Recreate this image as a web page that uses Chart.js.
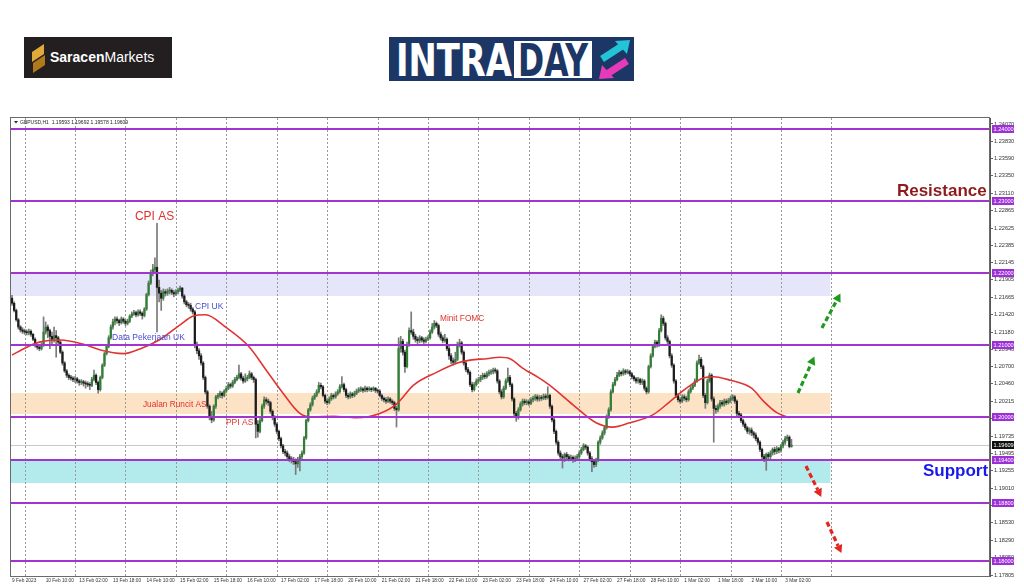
<!DOCTYPE html>
<html>
<head>
<meta charset="utf-8">
<script src="https://cdn.jsdelivr.net/npm/chart.js@4.4.1/dist/chart.umd.min.js"></script>
<style>
html, body { margin:0; padding:0; background:#fff; width:1024px; height:587px; overflow:hidden; }
.logo { position:absolute; }
#wrap { position:absolute; left:0; top:112px; width:1024px; height:475px; }
</style>
</head>
<body>
<svg class="logo" style="left:24px;top:37px" width="148" height="41">
  <rect width="148" height="41" fill="#231f20"/>
  <polygon points="8,15 20,7 20,17 8,25" fill="#e0a93c"/>
  <polygon points="9,26 21,18 21,28 9,36" fill="#b07a1c"/>
  <text x="26" y="25" font-family="Liberation Sans, Arial" font-size="14" fill="#fff"><tspan font-weight="bold">Saracen</tspan>Markets</text>
</svg>
<svg class="logo" style="left:389px;top:37px" width="245" height="44">
  <rect width="245" height="44" fill="#1c3765"/>
  <text x="7" y="39" font-family="DejaVu Sans Condensed, DejaVu Sans" font-weight="bold" font-size="44" fill="#fff" textLength="116" lengthAdjust="spacingAndGlyphs">INTRA</text>
  <rect x="125" y="4" width="78" height="37" fill="#fff"/>
  <text x="129" y="39" font-family="DejaVu Sans Condensed, DejaVu Sans" font-weight="bold" font-size="44" fill="#1c3765" textLength="70" lengthAdjust="spacingAndGlyphs">DAY</text>
  <line x1="213" y1="22" x2="233" y2="9" stroke="#22c4d6" stroke-width="7"/>
  <polygon points="241,3 226,4 238,17" fill="#22c4d6"/>
  <line x1="238" y1="24" x2="218" y2="37" stroke="#e63ab8" stroke-width="7"/>
  <polygon points="210,42 225,41 213,28" fill="#e63ab8"/>
</svg>
<div id="wrap"><canvas id="c" width="1024" height="475"></canvas></div>
<script>
// GBPUSD H1, values in pips above 1.2000, one entry per hourly bar (9 Feb 18:00 .. 3 Mar 05:00)
const BASE = 1.2, PIP = 0.0001;
const FIRST_OPEN = 165;
const closes = [
  158,148,135,125,121,119,
  118,117,119,115,108,99,97,95,100,118,125,120,112,108,113,110,104,90,75,64,58,55,54,52,
  53,50,48,49,47,46,45,44,52,58,48,38,55,72,88,98,110,125,132,136,134,131,136,133,
  130,133,140,143,145,142,146,144,141,150,170,186,200,205,208,180,172,165,174,172,175,176,173,171,
  174,176,179,168,160,156,155,150,146,100,92,85,75,55,35,15,0,-4,15,28,30,33,30,36,
  40,45,43,48,52,55,60,54,50,53,55,60,55,52,-10,-20,-5,15,24,22,20,8,0,-10,
  -20,-30,-40,-48,-50,-55,-58,-60,-62,-65,-60,-55,-50,-29,-5,10,17,26,30,35,44,42,30,22,
  20,25,30,28,32,35,42,45,38,30,28,32,30,33,36,38,39,37,40,38,39,38,40,37,
  36,30,26,24,22,25,22,20,12,10,95,105,90,70,100,120,118,112,108,106,110,107,105,108,
  110,118,125,130,127,115,110,106,108,95,85,78,76,80,100,103,90,75,66,62,45,38,45,50,
  52,55,58,56,60,62,63,65,64,50,35,28,40,50,55,45,25,5,-1,10,18,22,20,21,
  19,24,26,28,25,27,26,29,27,30,15,-4,-20,-35,-50,-55,-57,-52,-55,-58,-56,-60,-57,-55,
  -50,-45,-40,-42,-50,-58,-62,-66,-60,-35,-29,-22,-15,0,10,35,45,52,58,62,60,64,62,63,
  60,56,53,50,52,48,50,40,35,70,85,98,104,100,120,137,130,110,105,85,72,50,30,24,
  22,28,26,24,35,40,44,50,75,80,70,30,20,50,58,25,12,10,15,20,18,22,20,23,
  26,28,22,5,3,-5,-10,-15,-20,-18,-22,-25,-30,-35,-45,-55,-58,-52,-55,-50,-45,-48,-44,-46,
  -40,-35,-30,-28,-41,-39
];
const highs = [
  169,160,150,137,127,124,
  122,121,122,121,116,110,101,99,103,139,132,128,122,118,125,120,112,106,92,77,66,60,58,56,
  56,55,52,52,51,50,49,48,55,65,60,50,57,74,90,101,113,128,136,139,139,136,139,138,
  135,136,142,146,148,147,149,149,146,152,172,189,204,212,221,269,190,176,178,177,178,180,178,176,
  177,179,182,180,170,162,159,158,152,148,104,95,88,77,57,37,17,8,17,30,33,36,35,38,
  43,48,47,51,55,58,72,62,57,60,58,64,62,57,54,-5,-2,18,28,27,25,22,10,2,
  -8,-18,-28,-38,-45,-47,-52,-55,-56,-58,-56,-52,-47,-27,-3,12,20,29,33,38,48,47,44,32,
  25,28,33,32,35,38,45,56,47,40,33,35,34,36,39,41,42,41,43,42,42,41,42,41,
  39,38,32,28,27,28,27,24,22,15,110,112,108,93,104,124,146,122,115,111,113,112,110,111,
  113,121,130,134,132,129,118,113,115,110,98,88,82,90,104,108,105,92,78,69,64,48,48,53,
  55,58,61,61,63,65,66,68,68,66,52,38,43,53,68,58,47,27,8,13,21,25,25,24,
  24,27,29,31,31,30,30,32,32,42,32,17,-2,-18,-33,-47,-52,-50,-49,-52,-53,-54,-54,-52,
  -47,-42,-37,-38,-40,-48,-55,-59,-57,-33,-26,-19,-12,3,13,38,48,55,62,65,64,67,66,66,
  65,62,58,55,55,54,53,52,42,72,88,101,107,106,123,142,140,132,113,107,88,74,52,33,
  27,31,31,29,38,43,47,53,78,86,83,72,33,53,61,60,28,16,18,23,23,25,25,26,
  29,31,30,24,8,5,-3,-8,-13,-15,-15,-20,-22,-28,-33,-43,-52,-50,-49,-47,-43,-42,-41,-42,
  -38,-32,-27,-25,-26,-31
];
const lows = [
  155,146,133,122,118,116,
  115,114,114,112,106,97,94,92,93,98,115,110,95,100,104,83,100,88,72,62,55,52,51,49,
  48,47,44,45,43,40,42,38,42,50,45,33,36,53,70,86,96,108,122,128,130,127,129,130,
  127,128,131,138,141,139,140,141,136,139,148,168,184,196,200,118,160,148,162,168,169,171,170,167,
  169,171,174,165,157,153,151,147,143,96,88,80,72,52,32,12,-4,-8,-6,12,25,27,26,28,
  34,38,40,41,46,50,53,51,47,48,50,53,52,48,-29,-28,-22,-7,12,18,16,5,-4,-13,
  -23,-33,-43,-51,-54,-58,-62,-64,-66,-80,-70,-75,-58,-52,-31,-7,8,15,24,28,33,39,28,19,
  17,18,23,25,26,30,33,40,35,27,25,26,27,28,31,34,35,34,35,35,36,35,36,34,
  33,28,23,21,19,20,19,17,9,-14,8,90,86,62,68,98,115,108,104,102,103,104,102,103,
  106,108,116,122,124,112,107,103,104,92,80,74,72,74,78,97,87,72,63,59,42,35,36,43,
  47,49,52,53,54,57,59,60,61,47,32,25,26,38,48,42,22,2,-6,-3,8,15,17,17,
  16,17,21,23,22,22,23,24,24,25,12,-7,-23,-38,-53,-60,-71,-62,-58,-61,-60,-63,-62,-60,
  -58,-52,-47,-45,-53,-61,-76,-70,-69,-62,-38,-31,-25,-17,-2,8,33,43,50,56,57,58,59,60,
  57,53,50,47,47,45,45,37,32,33,68,83,96,97,98,118,127,107,102,82,69,47,27,21,
  19,20,23,21,22,33,38,42,48,73,67,27,12,18,48,22,-35,5,7,12,15,15,17,18,
  20,23,19,2,0,-8,-13,-18,-23,-24,-26,-29,-33,-38,-48,-58,-62,-74,-59,-58,-53,-52,-51,-50,
  -49,-43,-38,-33,-43,-42
];

// moving average (bar index, pips)
const maBars = [0,7,13,23,34,42,53,62,70,80,86,92,102,113,121,129,137,143,153,164,175,183,191,202,212,218,226,232,237,243,251,256,267,278,286,294,305,313,321,329,334,342,352,358,364,370];
const maPips = [86,97,104,107,101,93,88,96,107,128,140,142,124,97,65,33,5,0,1,-1,5,18,44,62,75,79,81,83,81,68,54,44,17,-8,-14,-8,3,21,40,54,56,51,40,21,6,-1];

const xTickLabels = ['9 Feb 2023','10 Feb 10:00','13 Feb 02:00','13 Feb 18:00','14 Feb 10:00','15 Feb 02:00','15 Feb 18:00','16 Feb 10:00','17 Feb 02:00','17 Feb 18:00','20 Feb 10:00','21 Feb 02:00','21 Feb 18:00','22 Feb 10:00','23 Feb 02:00','23 Feb 18:00','24 Feb 10:00','27 Feb 02:00','27 Feb 18:00','28 Feb 10:00','1 Mar 02:00','1 Mar 18:00','2 Mar 10:00','3 Mar 02:00'];
const X_LABEL_STEP = 16;
const yTicks = [1.24070,1.23830,1.23590,1.23350,1.23110,1.22865,1.22625,1.22385,1.22145,1.21905,1.21665,1.21420,1.21180,1.20940,1.20700,1.20460,1.20215,1.19975,1.19735,1.19495,1.19255,1.19010,1.18770,1.18530,1.18290,1.18050,1.17805];
const Y_MIN = 1.177917, Y_MAX = 1.241528;

const levels = [1.24, 1.23, 1.22, 1.21, 1.20, 1.194, 1.188, 1.18];
const zoneLows = [1.2168, 1.20042, 1.19083];
const zoneHighs = [1.2200, 1.20333, 1.1940];
const ZONE_END_BAR = 389.5;
const lastPrice = 1.19609;
const headerText = 'GBPUSD,H1  1.19593 1.19692 1.19578 1.19609';

// news notes: text, left bar, price
const noteText = ['CPI AS','Data Pekerjaan UK','CPI UK','Jualan Runcit AS','PPI AS','Minit FOMC','Resistance','Support'];
const noteBar = [58.5, 47.6, 87.1, 62.3, 101.8, 203.7, 421.2, 433.6];
const notePrice = [1.22778, 1.21097, 1.21528, 1.20167, 1.19917, 1.21361, 1.23139, 1.1925];

// scenario arrows: from (bar, price) to (bar, price)
const arrowFromBar = [374.1, 385.5, 377.9, 387.9];
const arrowFromPrice = [1.20333, 1.21236, 1.19319, 1.18542];
const arrowToBar = [381.9, 394.3, 385.2, 394.8];
const arrowToPrice = [1.20840, 1.21715, 1.18890, 1.18110];

const N_SLOTS = 466;
const FIRST_DAY_BAR = 6, LAST_GRID_BAR = 390, BARS_PER_DAY = 24;

// styles
const BULL = '#2f7f34', BEAR = '#1c1c1c', WICK = '#7a7a7a', MA_COLOR = '#e03434';
const LEVEL_COLOR = '#a035cf';
const zoneColors = ['#e6e6fa', '#fde3c5', '#b3ebec'];
const noteColors = ['#e0322d','#4a4ad2','#4a4ad2','#e0322d','#e0322d','#e0322d','#8e1b1b','#1a1ae8'];
const noteFonts = ['12px "Liberation Sans"','8.5px "Liberation Sans"','8.5px "Liberation Sans"','8.3px "Liberation Sans"','8.5px "Liberation Sans"','8.3px "Liberation Sans"','bold 17px "Liberation Sans"','bold 17px "Liberation Sans"'];
const arrowColors = ['#1f9a1f','#1f9a1f','#e3261f','#e3261f'];
const SMALL_FONT = '"Liberation Sans"';

const toPrice = p => +(BASE + p * PIP).toFixed(5);
const opens = closes.map((c, i) => i ? closes[i - 1] : FIRST_OPEN);
const labels = Array.from({length: N_SLOTS}, (_, i) => i);

function drawArrow(ctx, x1, y1, x2, y2, color) {
  const ang = Math.atan2(y2 - y1, x2 - x1);
  const head = 8;
  const bx = x2 - Math.cos(ang) * head, by = y2 - Math.sin(ang) * head;
  ctx.strokeStyle = color; ctx.fillStyle = color;
  ctx.lineWidth = 3.2; ctx.setLineDash([5, 3]);
  ctx.beginPath(); ctx.moveTo(x1, y1); ctx.lineTo(bx, by); ctx.stroke();
  ctx.setLineDash([]);
  ctx.beginPath();
  ctx.moveTo(x2, y2);
  ctx.lineTo(bx + Math.cos(ang + Math.PI / 2) * 4.5, by + Math.sin(ang + Math.PI / 2) * 4.5);
  ctx.lineTo(bx + Math.cos(ang - Math.PI / 2) * 4.5, by + Math.sin(ang - Math.PI / 2) * 4.5);
  ctx.closePath(); ctx.fill();
}

function priceBox(ctx, x, y, txt, bg) {
  const cy = Math.round(y);
  ctx.fillStyle = bg;
  ctx.fillRect(x, cy - 4, 22, 8);
  ctx.fillStyle = '#fff';
  ctx.font = '5.6px ' + SMALL_FONT;
  ctx.textAlign = 'left'; ctx.textBaseline = 'middle';
  ctx.fillText(txt, x + 1.5, cy + 0.5);
}

const overlay = {
  id: 'overlay',
  beforeDatasetsDraw(chart) {
    const {ctx, chartArea: a, scales: {x, y}} = chart;
    ctx.save();
    ctx.beginPath(); ctx.rect(a.left, a.top, a.right - a.left, a.bottom - a.top); ctx.clip();
    const zx = x.getPixelForValue(ZONE_END_BAR);
    zoneLows.forEach((lo, k) => {
      const t = y.getPixelForValue(zoneHighs[k]), b = y.getPixelForValue(lo);
      ctx.fillStyle = zoneColors[k];
      ctx.fillRect(a.left, t, zx - a.left, b - t);
    });
    ctx.strokeStyle = '#9a9a9a'; ctx.lineWidth = 1; ctx.setLineDash([2, 2]);
    for (let b = FIRST_DAY_BAR; b <= LAST_GRID_BAR; b += BARS_PER_DAY) {
      const px = Math.round(x.getPixelForValue(b)) + 0.5;
      ctx.beginPath(); ctx.moveTo(px, a.top); ctx.lineTo(px, a.bottom); ctx.stroke();
    }
    ctx.setLineDash([]);
    const ly = Math.round(y.getPixelForValue(lastPrice)) + 0.5;
    ctx.strokeStyle = '#c8c8c8';
    ctx.beginPath(); ctx.moveTo(a.left, ly); ctx.lineTo(a.right, ly); ctx.stroke();
    ctx.restore();
  },
  afterDatasetsDraw(chart) {
    const {ctx, chartArea: a, scales: {x, y}} = chart;
    ctx.save();
    ctx.strokeStyle = LEVEL_COLOR; ctx.lineWidth = 2;
    levels.forEach(v => {
      const py = Math.round(y.getPixelForValue(v));
      ctx.beginPath(); ctx.moveTo(a.left, py); ctx.lineTo(a.right, py); ctx.stroke();
    });
    noteText.forEach((t, k) => {
      ctx.font = noteFonts[k]; ctx.fillStyle = noteColors[k];
      ctx.textAlign = 'left'; ctx.textBaseline = 'middle';
      ctx.fillText(t, x.getPixelForValue(noteBar[k]), y.getPixelForValue(notePrice[k]));
    });
    arrowFromBar.forEach((b, k) => {
      drawArrow(ctx, x.getPixelForValue(b), y.getPixelForValue(arrowFromPrice[k]),
        x.getPixelForValue(arrowToBar[k]), y.getPixelForValue(arrowToPrice[k]), arrowColors[k]);
    });
    ctx.strokeStyle = '#6a6a6a'; ctx.lineWidth = 1;
    ctx.strokeRect(a.left - 0.5, a.top - 0.5, a.right - a.left, a.bottom - a.top + 1);
    ctx.fillStyle = '#222'; ctx.font = '5px ' + SMALL_FONT; ctx.textBaseline = 'middle';
    ctx.beginPath(); ctx.moveTo(a.left + 3, a.top + 3); ctx.lineTo(a.left + 7, a.top + 3); ctx.lineTo(a.left + 5, a.top + 5.5); ctx.fill();
    ctx.fillText(headerText, a.left + 9, a.top + 4.5);
    ctx.restore();
  },
  afterDraw(chart) {
    const {ctx, chartArea: a, scales: {y}} = chart;
    ctx.save();
    levels.forEach(v => priceBox(ctx, a.right + 2, y.getPixelForValue(v), v.toFixed(5), '#9b30d6'));
    priceBox(ctx, a.right + 2, y.getPixelForValue(lastPrice), lastPrice.toFixed(5), '#111');
    ctx.restore();
  }
};

new Chart(document.getElementById('c'), {
  type: 'bar',
  data: {
    labels: labels,
    datasets: [
      { type: 'line', order: 0,
        data: maBars.map((b, i) => ({x: b, y: toPrice(maPips[i])})),
        borderColor: MA_COLOR, borderWidth: 1.6, pointRadius: 0, cubicInterpolationMode: 'monotone' },
      { order: 2, grouped: false, barThickness: 1.6, minBarLength: 1,
        data: closes.map((c, i) => [toPrice(opens[i]), toPrice(c)]),
        backgroundColor: closes.map((c, i) => c >= opens[i] ? BULL : BEAR) },
      { order: 3, grouped: false, barThickness: 1,
        data: closes.map((c, i) => [toPrice(lows[i]), toPrice(highs[i])]),
        backgroundColor: WICK }
    ]
  },
  options: {
    responsive: false,
    animation: false,
    devicePixelRatio: 1,
    layout: { padding: { left: 11, top: 6, right: 0, bottom: 0 } },
    plugins: { legend: { display: false }, tooltip: { enabled: false } },
    scales: {
      x: {
        type: 'category', offset: true,
        grid: { display: false, drawTicks: false }, border: { display: false },
        ticks: {
          autoSkip: false, maxRotation: 0, minRotation: 0, align: 'start', padding: 2,
          color: '#333', font: { size: 4.8, family: 'Liberation Sans' },
          callback: (v, i) => i % X_LABEL_STEP === 0 ? (xTickLabels[i / X_LABEL_STEP] || '') : ''
        },
        afterFit: s => { s.height = 11; }
      },
      y: {
        position: 'right', min: Y_MIN, max: Y_MAX,
        afterBuildTicks: s => { s.ticks = yTicks.map(v => ({value: v})); },
        ticks: { callback: v => v.toFixed(5), color: '#333', padding: 1, font: { size: 5.6, family: 'Liberation Sans' } },
        grid: { drawOnChartArea: false, drawTicks: true, tickLength: 3, color: '#666' },
        border: { display: true, color: '#555' },
        afterFit: s => { s.width = 34; }
      }
    }
  },
  plugins: [overlay]
});
</script>
</body>
</html>
